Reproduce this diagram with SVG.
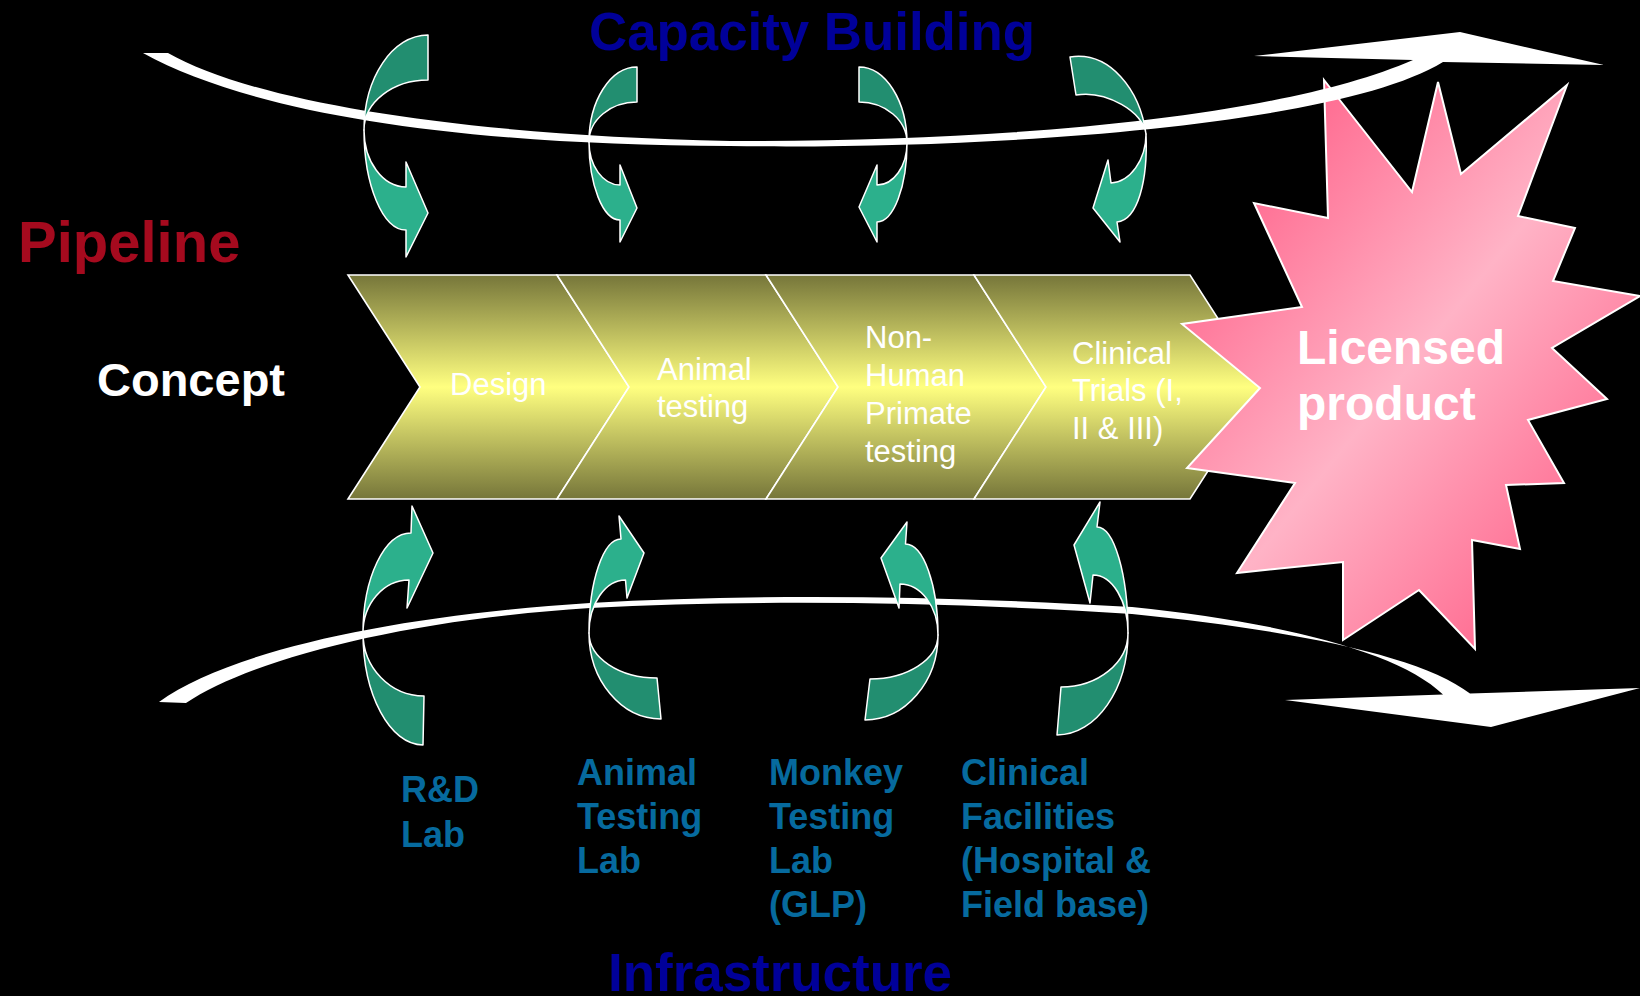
<svg xmlns="http://www.w3.org/2000/svg" width="1640" height="996" viewBox="0 0 1640 996">
<defs>
<linearGradient id="chev" gradientUnits="userSpaceOnUse" x1="0" y1="275" x2="0" y2="499">
<stop offset="0" stop-color="#76763a"/>
<stop offset="0.5" stop-color="#ffff80"/>
<stop offset="1" stop-color="#76763a"/>
</linearGradient>
<linearGradient id="starg" x1="0" y1="0" x2="1" y2="1">
<stop offset="0" stop-color="#ff4a78"/>
<stop offset="0.5" stop-color="#ffb3c6"/>
<stop offset="1" stop-color="#ff4a78"/>
</linearGradient>
<style>
.t{font-family:"Liberation Sans",Arial,sans-serif}
.b{font-weight:bold}
.chev{fill:url(#chev);stroke:#fff;stroke-width:1.6;stroke-linejoin:miter}
.ct{font-size:31px;fill:#fff}
.lab{font-size:36px;fill:#066a9e;font-weight:bold}
.title{font-size:54px;fill:#000099;font-weight:bold}
.sw{fill:#fff;stroke:none}
.dk{fill:#228e70;stroke:#fff;stroke-width:1.5;stroke-linejoin:round}
.lt{fill:#2cb08c;stroke:#fff;stroke-width:1.5;stroke-linejoin:round}
</style>
</defs>
<rect x="0" y="0" width="1640" height="996" fill="#000"/>

<g id="title-capacity">
<text class="t title" x="812" y="50" text-anchor="middle" textLength="446" lengthAdjust="spacingAndGlyphs">Capacity Building</text>
</g>
<g id="label-pipeline">
<text class="t b" x="18" y="262" font-size="58" fill="#a50a1e">Pipeline</text>
</g>
<g id="node-concept">
<text class="t b" x="97" y="396" font-size="47" fill="#fff">Concept</text>
</g>

<g id="node-design">
<path class="chev" d="M348,275 L557,275 L629,387 L557,499 L348,499 L420,387 Z"/>
<text class="t ct" x="450" y="395">Design</text>
</g>
<g id="node-animal">
<path class="chev" d="M557,275 L766,275 L838,387 L766,499 L557,499 L629,387 Z"/>
<text class="t ct" x="657" y="380">Animal</text>
<text class="t ct" x="657" y="417">testing</text>
</g>
<g id="node-nhp">
<path class="chev" d="M766,275 L974,275 L1046,387 L974,499 L766,499 L838,387 Z"/>
<text class="t ct" x="865" y="348">Non-</text>
<text class="t ct" x="865" y="386">Human</text>
<text class="t ct" x="865" y="424">Primate</text>
<text class="t ct" x="865" y="462">testing</text>
</g>
<g id="node-clinical">
<path class="chev" d="M974,275 L1190,275 L1262,387 L1190,499 L974,499 L1046,387 Z"/>
<text class="t ct" x="1072" y="364">Clinical</text>
<text class="t ct" x="1072" y="401">Trials (I,</text>
<text class="t ct" x="1072" y="439">II &amp; III)</text>
</g>

<g id="node-licensed">
<polygon fill="url(#starg)" stroke="#fff" stroke-width="2" stroke-linejoin="miter" points="1324,80 1412,192 1438,82 1461,174 1567,85 1518,216 1575,228 1553,281 1640,296 1552,348 1607,399 1528,420 1564,483 1506,485 1520,549 1472,540 1475,649 1419,590 1343,640 1343,562 1237,573 1295,483 1187,468 1260,388 1182,324 1302,307 1254,203 1328,218"/>
<text class="t b" x="1297" y="364" font-size="48" fill="#fff">Licensed</text>
<text class="t b" x="1297" y="420" font-size="48" fill="#fff">product</text>
</g>

<g id="label-rd">
<text class="t lab" x="401" y="802">R&amp;D</text>
<text class="t lab" x="401" y="847">Lab</text>
</g>
<g id="label-animal-lab">
<text class="t lab" x="577" y="785">Animal</text>
<text class="t lab" x="577" y="829">Testing</text>
<text class="t lab" x="577" y="873">Lab</text>
</g>
<g id="label-monkey-lab">
<text class="t lab" x="769" y="785">Monkey</text>
<text class="t lab" x="769" y="829">Testing</text>
<text class="t lab" x="769" y="873">Lab</text>
<text class="t lab" x="769" y="917">(GLP)</text>
</g>
<g id="label-clinical-fac">
<text class="t lab" x="961" y="785">Clinical</text>
<text class="t lab" x="961" y="829">Facilities</text>
<text class="t lab" x="961" y="873">(Hospital &amp;</text>
<text class="t lab" x="961" y="917">Field base)</text>
</g>
<g id="title-infrastructure">
<text class="t title" x="780" y="991" text-anchor="middle" textLength="344" lengthAdjust="spacingAndGlyphs">Infrastructure</text>
</g>

<g id="connectors">
<path class="sw" d="M143,53 L168,53 C250,100 450,135 730,141 C1000,142 1280,118 1413,60 L1254,56 L1460,32 L1604,65 L1443,62 C1340,125 1000,150 730,146 C450,145 250,112 143,53 Z"/>
<path class="sw" d="M159,702 C230,650 400,615 590,603 C760,593 950,596 1132,607 C1280,622 1400,652 1443,694.6 L1285,700 L1491,727 L1640,688 L1470,693.5 C1420,655 1290,630 1132,614 C950,602 760,599 590,608 C400,620 250,660 186,703 Z"/>

<g id="arrow-cb-1">
<path class="dk" d="M428,35 C392.7,35 364,77.6 364,130 C364,102.4 392.7,80 428,80 Z"/>
<path class="lt" d="M364,130 C364,185.2 382.8,230 406,230 L406,257 L428,213 L406,162 L406,187 C382.8,187 364,161.5 364,130 Z"/>
</g>
<g id="arrow-cb-2">
<path class="dk" d="M637,67 C610.5,67 589,100.6 589,142 C589,119.9 610.5,102 637,102 Z"/>
<path class="lt" d="M589,142 C589,185 602.9,220 620,220 L620,242 L637,208 L620,165 L620,185 C602.9,185 589,165.7 589,142 Z"/>
</g>
<g id="arrow-cb-3">
<path class="dk" d="M859,67 C885.5,67 907,101 907,143 C907,120.4 885.5,102 859,102 Z"/>
<path class="lt" d="M907,143 C907,186.6 893.6,222 877,222 L877,242 L859,207 L877,165 L877,185 C893.6,185 907,166.2 907,143 Z"/>
</g>
<g id="arrow-cb-4">
<path class="dk" d="M1070,57 C1110,51 1140,90 1146,134 C1144,112 1106,90 1076,95 Z"/>
<path class="lt" d="M1146,134 C1148,180 1138,220 1117,222 L1120,242 L1093,208 L1108,160 L1111,183 C1130,182 1146,160 1146,134 Z"/>
</g>

<g id="arrow-inf-1">
<path class="dk" d="M363,633 C363,694.8 389.9,745 423,745 L424,696 C390.3,696 363,667.8 363,633 Z"/>
<path class="lt" d="M363,633 C363,577.8 384.5,533 411,533 L412,506 L433,553 L407,608 L409,580 C383.6,580 363,603.7 363,633 Z"/>
</g>
<g id="arrow-inf-2">
<path class="dk" d="M589,633 C589,680.5 621.3,719 661,719 L657,678 C619.5,678 589,657.8 589,633 Z"/>
<path class="lt" d="M589,633 C589,581.1 603.3,539 621,539 L619,516 L644,553 L627,598 L625.5,580 C605.4,580 589,603.7 589,633 Z"/>
</g>
<g id="arrow-inf-3">
<path class="dk" d="M938,635 C938,681.9 905.3,720 865,720 L870,679 C907.5,679 938,659.3 938,635 Z"/>
<path class="lt" d="M938,635 C938,584.8 923.4,544 905.5,544 L907,522 L881,558 L899,608 L900,584 C921,584 938,606.8 938,635 Z"/>
</g>
<g id="arrow-inf-4">
<path class="dk" d="M1128,633 C1128,689.3 1096.2,735 1057,735 L1061,687 C1098,687 1128,662.8 1128,633 Z"/>
<path class="lt" d="M1128,633 C1128,574.5 1114.1,527 1097,527 L1100,502 L1074,545 L1090,603 L1093,575 C1112.3,575 1128,601 1128,633 Z"/>
</g>
</g>
</svg>
